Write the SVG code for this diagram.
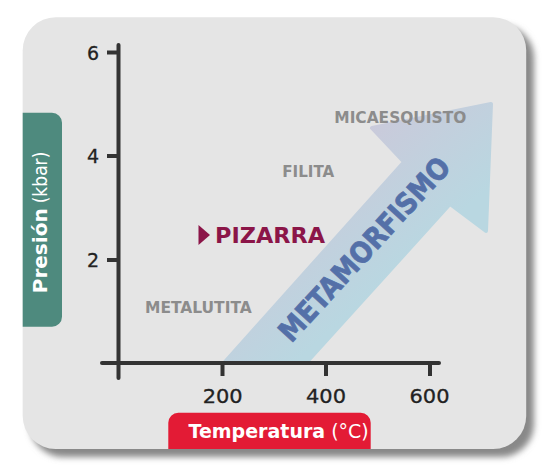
<svg xmlns="http://www.w3.org/2000/svg" width="550" height="472" viewBox="0 0 550 472">
<style>
.num{font-family:"DejaVu Sans",sans-serif;font-size:19px;fill:#222;text-anchor:middle;stroke:#222;stroke-width:0.3}
.rock{font-family:"DejaVu Sans",sans-serif;font-weight:bold;font-size:16px;fill:#8c8c8c}
.axis{stroke:#333;stroke-width:4;stroke-linecap:round;fill:none}
.tick{stroke:#333;stroke-width:4;fill:none}
.tab{font-family:"DejaVu Sans",sans-serif;font-size:19px;fill:#fff}
</style>
<defs>
<filter id="sh" x="-10%" y="-10%" width="120%" height="120%">
<feGaussianBlur stdDeviation="3"/>
</filter>
<linearGradient id="ag" gradientUnits="userSpaceOnUse" x1="330" y1="150" x2="420" y2="250">
<stop offset="0" stop-color="#cbc9da"/>
<stop offset="1" stop-color="#b9d7e1"/>
</linearGradient>
</defs>
<rect width="550" height="472" fill="#fff"/>
<g id="card">
<rect x="30" y="25" width="504" height="432" rx="33" fill="#888" filter="url(#sh)"/>
<rect x="22.7" y="17.3" width="503.5" height="431.7" rx="33" fill="#e5e5e5"/>
</g>
<g id="arrow">
<polygon points="224,363 404,162 372,128 491,104 486,231 450,204 306,363" fill="url(#ag)" stroke="url(#ag)" stroke-width="4" stroke-linejoin="round"/>
<text transform="translate(364,249) rotate(-47.5)" x="0" y="10.5" text-anchor="middle" font-family="DejaVu Sans, sans-serif" font-weight="bold" font-size="29" fill="#5470a8" stroke="#5470a8" stroke-width="0.8" textLength="238" lengthAdjust="spacingAndGlyphs">METAMORFISMO</text>
</g>
<g id="axes">
<line class="axis" x1="118.5" y1="45" x2="118.5" y2="378"/>
<line class="axis" x1="102" y1="363" x2="439" y2="363"/>
<line class="tick" x1="107" y1="52.5" x2="118" y2="52.5"/>
<line class="tick" x1="107" y1="156" x2="118" y2="156"/>
<line class="tick" x1="107" y1="260" x2="118" y2="260"/>
<line class="tick" x1="222.5" y1="363" x2="222.5" y2="376"/>
<line class="tick" x1="326" y1="363" x2="326" y2="376"/>
<line class="tick" x1="430" y1="363" x2="430" y2="376"/>
<text class="num" x="93" y="60">6</text>
<text class="num" x="93" y="163">4</text>
<text class="num" x="93" y="267">2</text>
<text class="num" x="222.7" y="403" textLength="40" lengthAdjust="spacingAndGlyphs">200</text>
<text class="num" x="326" y="403" textLength="40" lengthAdjust="spacingAndGlyphs">400</text>
<text class="num" x="429.5" y="403" textLength="40" lengthAdjust="spacingAndGlyphs">600</text>
</g>
<g id="labels">
<text class="rock" x="334.3" y="123.3" textLength="132" lengthAdjust="spacingAndGlyphs">MICAESQUISTO</text>
<text class="rock" x="282.3" y="177.3" textLength="52" lengthAdjust="spacingAndGlyphs">FILITA</text>
<text class="rock" x="145" y="313.3" textLength="106.7" lengthAdjust="spacingAndGlyphs">METALUTITA</text>
<polygon points="198.5,225 210,235 198.5,245" fill="#8b1548"/>
<text x="215" y="243.3" font-family="DejaVu Sans, sans-serif" font-weight="bold" font-size="21.4" fill="#8b1548" textLength="110" lengthAdjust="spacingAndGlyphs">PIZARRA</text>
</g>
<g id="ylabel">
<path d="M22.7,112.7 H52 A10,10 0 0 1 62,122.7 V316.7 A10,10 0 0 1 52,326.7 H22.7 Z" fill="#4e8a7e"/>
<g transform="translate(47,0) rotate(-90)">
<text class="tab" x="-293.3" y="0" font-size="21" font-weight="bold" textLength="85" lengthAdjust="spacingAndGlyphs">Presión</text>
<text class="tab" x="-203.3" y="0" font-size="21" textLength="51.6" lengthAdjust="spacingAndGlyphs">(kbar)</text>
</g>
</g>
<g id="xlabel">
<path d="M168.3,449 V422.7 A10,10 0 0 1 178.3,412.7 H360.7 A10,10 0 0 1 370.7,422.7 V449 Z" fill="#e31b35"/>
<text class="tab" x="188.5" y="438" font-size="17"><tspan font-weight="bold">Temperatura</tspan> (°C)</text>
</g>
</svg>
